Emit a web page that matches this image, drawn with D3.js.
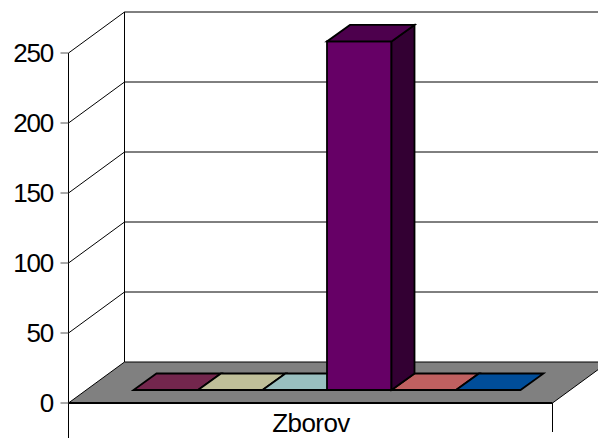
<!DOCTYPE html>
<html>
<head>
<meta charset="utf-8">
<style>
  html, body { margin: 0; padding: 0; background: #fff; }
  svg { display: block; }
  text { font-family: "Liberation Sans", Arial, sans-serif; font-size: 26px; fill: #000; letter-spacing: -1.2px; }
  text.cat { letter-spacing: -0.6px; }
</style>
</head>
<body>
<div id="chart"></div>
<script src="https://cdn.jsdelivr.net/npm/d3@7"></script>
<script>
var categories = ['Zborov'];
var seriesNames = ['s1', 's2', 's3', 's4', 's5', 's6'];
var seriesValues = [0, 0, 0, 249, 0, 0];
var seriesColors = ['#993366', '#ffffcc', '#ccffff', '#660066', '#ff8080', '#0066cc'];
var tickValues = [0, 50, 100, 150, 200, 250];

var width = 598, height = 438;

// front plane of the box and how far the depth goes
var left = 68.5, right = 552.5, bottom = 403, top_ = 53;
var depthX = 56, depthY = -41;
// bars sit part way into the floor
var barFrontY = -13, barDepthX = 23, barDepthY = -16.5;

var svg = d3.select('#chart').append('svg')
    .attr('width', width)
    .attr('height', height);

var y = d3.scaleLinear().domain([0, 250]).range([bottom, top_]);
var xCat = d3.scaleBand().domain(categories).range([left, right]);
var x = d3.scaleBand().domain(seriesNames).range([133.5, 520.5]);

function pts(a) { return a.map(function(p) { return p.join(','); }).join(' '); }

// floor
svg.append('polygon')
    .attr('points', pts([[left, bottom], [right, bottom], [right + depthX, bottom + depthY], [left + depthX, bottom + depthY]]))
    .attr('fill', '#808080');

// back wall gridlines and the diagonals on the side wall
svg.selectAll('.grid').data(tickValues).enter().append('line')
    .attr('x1', left + depthX).attr('x2', width)
    .attr('y1', function(d) { return y(d) + depthY; })
    .attr('y2', function(d) { return y(d) + depthY; })
    .attr('stroke', '#000').attr('stroke-width', 1);
svg.selectAll('.diag').data(tickValues).enter().append('line')
    .attr('x1', left).attr('x2', left + depthX)
    .attr('y1', function(d) { return y(d); })
    .attr('y2', function(d) { return y(d) + depthY; })
    .attr('stroke', '#000').attr('stroke-width', 1);

// axis verticals
svg.append('line').attr('x1', left + depthX).attr('x2', left + depthX)
    .attr('y1', y(250) + depthY).attr('y2', y(0) + depthY)
    .attr('stroke', '#000');
svg.append('line').attr('x1', left).attr('x2', left)
    .attr('y1', y(250)).attr('y2', height)
    .attr('stroke', '#000');
svg.append('line').attr('x1', right).attr('x2', right)
    .attr('y1', bottom).attr('y2', 432)
    .attr('stroke', '#000');

// floor outline: front edge is heavier, back edge is a plain line
svg.append('line').attr('x1', left).attr('x2', right).attr('y1', bottom).attr('y2', bottom)
    .attr('stroke', '#000').attr('stroke-width', 2);
svg.append('line').attr('x1', right).attr('x2', right + depthX)
    .attr('y1', bottom).attr('y2', bottom + depthY)
    .attr('stroke', '#000');

// y ticks and labels
svg.selectAll('.tick').data(tickValues).enter().append('line')
    .attr('x1', left - 8).attr('x2', left)
    .attr('y1', function(d) { return y(d); })
    .attr('y2', function(d) { return y(d); })
    .attr('stroke', '#555');
svg.selectAll('.ylab').data(tickValues).enter().append('text')
    .attr('x', 53)
    .attr('y', function(d) { return y(d) + 9; })
    .attr('text-anchor', 'end')
    .text(function(d) { return d; });

// category label
svg.append('text')
    .attr('class', 'cat')
    .attr('x', xCat('Zborov') + xCat.bandwidth() / 2 + 0.5)
    .attr('y', 432)
    .attr('text-anchor', 'middle')
    .text(categories[0]);

// bars
var bars = svg.selectAll('.bar').data(seriesNames).enter().append('g');
bars.each(function(name, i) {
  var g = d3.select(this);
  var x0 = x(name), x1 = x0 + x.bandwidth();
  var yb = y(0) + barFrontY, yt = y(seriesValues[i]) + barFrontY;
  var c = d3.rgb(seriesColors[i]);
  var shade = function(k) { return d3.rgb(c.r * k, c.g * k, c.b * k).formatHex(); };
  var st = { stroke: '#000', width: 1.8 };
  if (seriesValues[i] > 0) {
    g.append('polygon')
      .attr('points', pts([[x0, yb], [x1, yb], [x1, yt], [x0, yt]]))
      .attr('fill', shade(1)).attr('stroke', st.stroke).attr('stroke-width', st.width);
    g.append('polygon')
      .attr('points', pts([[x1, yb], [x1 + barDepthX, yb + barDepthY], [x1 + barDepthX, yt + barDepthY], [x1, yt]]))
      .attr('fill', shade(0.5)).attr('stroke', st.stroke).attr('stroke-width', st.width);
  }
  g.append('polygon')
    .attr('points', pts([[x0, yt], [x1, yt], [x1 + barDepthX, yt + barDepthY], [x0 + barDepthX, yt + barDepthY]]))
    .attr('fill', shade(0.75)).attr('stroke', st.stroke).attr('stroke-width', st.width);
});
// the tall bar stands in front of the flat ones either side
bars.filter(function(d, i) { return seriesValues[i] > 0; }).raise();
</script>
</body>
</html>
